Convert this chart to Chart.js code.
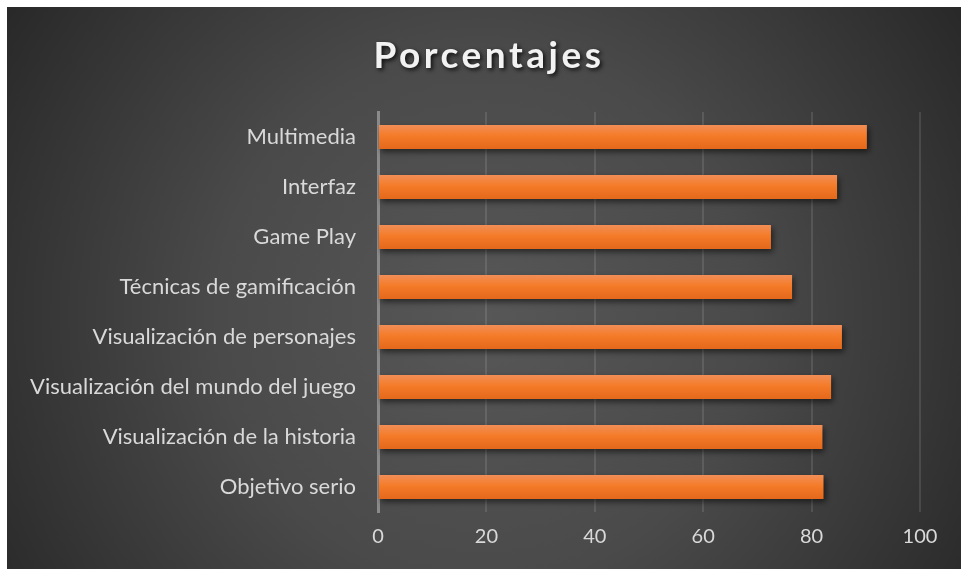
<!DOCTYPE html>
<html>
<head>
<meta charset="utf-8">
<script src="https://cdn.jsdelivr.net/npm/chart.js@4.4.1/dist/chart.umd.min.js"></script>
<style>
  html, body { margin: 0; padding: 0; background: #ffffff; }
  #wrap { position: absolute; left: 7px; top: 7px; width: 954px; height: 562px; }
</style>
</head>
<body>
<div id="wrap"><canvas id="barChart" width="954" height="562"></canvas></div>
<script>
const chartTitle = 'Porcentajes';
const categories = [
  'Multimedia',
  'Interfaz',
  'Game Play',
  'Técnicas de gamificación',
  'Visualización de personajes',
  'Visualización del mundo del juego',
  'Visualización de la historia',
  'Objetivo serio',
];
const percentages = [90.2, 84.7, 72.5, 76.4, 85.6, 83.6, 82.0, 82.2];
const tickValues = [0, 20, 40, 60, 80, 100];
const barShare = 0.48;

// dark radial backdrop behind everything
const backdrop = {
  id: 'backdrop',
  beforeDraw(chart) {
    const { ctx, width, height } = chart;
    const g = ctx.createRadialGradient(width * 0.5, height * 0.55, 0, width * 0.5, height * 0.55, width * 0.62);
    g.addColorStop(0, '#575757');
    g.addColorStop(0.45, '#4a4a4a');
    g.addColorStop(1, '#262626');
    ctx.save();
    ctx.fillStyle = g;
    ctx.fillRect(0, 0, width, height);
    ctx.restore();
  },
};

// soft shadow under the bars
const barShadow = {
  id: 'barShadow',
  beforeDatasetsDraw(chart) {
    const ctx = chart.ctx;
    ctx.save();
    ctx.shadowColor = 'rgba(0, 0, 0, 0.55)';
    ctx.shadowBlur = 6;
    ctx.shadowOffsetX = 2;
    ctx.shadowOffsetY = 3;
  },
  afterDatasetsDraw(chart) {
    chart.ctx.restore();
  },
};

// spaced title with a drop shadow
const spacedTitle = {
  id: 'spacedTitle',
  afterDraw(chart) {
    const ctx = chart.ctx;
    ctx.save();
    ctx.font = 'bold 37px Lato';
    ctx.letterSpacing = '3.5px';
    ctx.textAlign = 'center';
    ctx.textBaseline = 'middle';
    ctx.shadowColor = 'rgba(0, 0, 0, 0.8)';
    ctx.shadowBlur = 4;
    ctx.shadowOffsetX = 2;
    ctx.shadowOffsetY = 2;
    ctx.fillStyle = '#f2f2f2';
    ctx.fillText(chartTitle, 482, 49);
    ctx.restore();
  },
};

// vertical orange gradient per bar, lighter on top
function barFill(context) {
  const chart = context.chart;
  const yScale = chart.scales.y;
  if (!yScale || !chart.chartArea) return '#f07c2a';
  const center = yScale.getPixelForValue(context.dataIndex);
  const band = (chart.chartArea.bottom - chart.chartArea.top) / categories.length;
  const h = band * barShare;
  const top = center - h / 2;
  if (!Number.isFinite(top) || !Number.isFinite(h) || h <= 0) return '#f07c2a';
  const g = chart.ctx.createLinearGradient(0, top, 0, top + h);
  g.addColorStop(0, '#f28e57');
  g.addColorStop(0.45, '#f47b28');
  g.addColorStop(1, '#e5681b');
  return g;
}

new Chart(document.getElementById('barChart'), {
  type: 'bar',
  data: {
    labels: categories,
    datasets: [{
      label: chartTitle,
      data: percentages,
      backgroundColor: barFill,
      borderWidth: 0,
      categoryPercentage: 1,
      barPercentage: barShare,
    }],
  },
  options: {
    indexAxis: 'y',
    responsive: false,
    animation: false,
    layout: {
      padding: { top: 105, right: 41, left: 0, bottom: 0 },
    },
    plugins: {
      legend: { display: false },
      title: { display: false },
      tooltip: { enabled: false },
    },
    scales: {
      x: {
        min: 0,
        max: 100,
        afterBuildTicks(scale) {
          scale.ticks = tickValues.map((v) => ({ value: v }));
        },
        afterFit(scale) {
          scale.height = 57;
        },
        grid: {
          color: 'rgba(255, 255, 255, 0.11)',
          lineWidth: 2,
          drawTicks: false,
        },
        border: { display: false },
        ticks: {
          color: '#d9d9d9',
          padding: 13,
          font: { family: 'Lato', size: 20 },
        },
      },
      y: {
        afterFit(scale) {
          scale.width = 371;
        },
        grid: { display: false, drawTicks: false },
        border: { display: true, color: '#8a8a8a', width: 3 },
        ticks: {
          color: '#d9d9d9',
          padding: 22,
          font: { family: 'Lato', size: 22 },
        },
      },
    },
  },
  plugins: [backdrop, barShadow, spacedTitle],
});
</script>
</body>
</html>
